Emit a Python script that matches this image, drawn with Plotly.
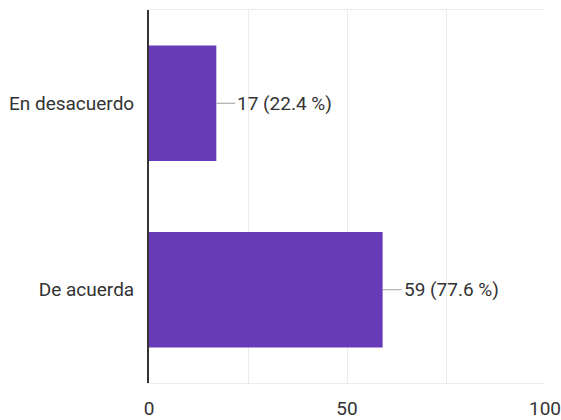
import plotly.graph_objects as go

categories = ["En desacuerdo", "De acuerda"]
counts = [17, 59]
percents = [22.4, 77.6]
x_tickvals = [0, 25, 50, 75, 100]
x_ticktext = ["0", "", "50", "", "100"]

BAR = "#673ab7"
TXT = "#333333"

fig = go.Figure(go.Bar(
    y=categories, x=counts, orientation="h",
    marker=dict(color=BAR, line=dict(width=0)),
    width=0.62, hoverinfo="skip",
))

for c, n, p in zip(categories, counts, percents):
    fig.add_annotation(
        x=n, y=c, xref="x", yref="y",
        text=f"{n} ({p} %)", showarrow=True, arrowhead=0,
        arrowwidth=1, arrowcolor="#9e9e9e", ax=19, ay=0,
        xanchor="left", standoff=0,
        font=dict(family="Roboto", size=19, color=TXT),
    )

fig.update_layout(
    width=561, height=420,
    margin=dict(l=149, r=16, t=10, b=37, autoexpand=False),
    paper_bgcolor="white", plot_bgcolor="white",
    showlegend=False,
    font=dict(family="Roboto", size=19, color=TXT),
    xaxis=dict(
        range=[0, 100], tickvals=x_tickvals, ticktext=x_ticktext,
        showgrid=True, gridcolor="#ebebeb", gridwidth=1,
        zeroline=False, showline=True, linecolor="#ebebeb", linewidth=1,
        mirror=True, ticks="", ticklabelstandoff=8, automargin=False,
        ticklabeloverflow="allow",
        tickfont=dict(family="Roboto", size=19, color=TXT),
        fixedrange=True,
    ),
    yaxis=dict(
        categoryorder="array", categoryarray=categories, autorange="reversed",
        showgrid=False, zeroline=False, showline=True, linecolor="#333333",
        linewidth=2, ticks="", ticklabelstandoff=9, automargin=False,
        tickfont=dict(family="Roboto", size=19, color=TXT), fixedrange=True,
    ),
)

fig.write_html(
    "out.html",
    config={"displayModeBar": False},
    post_script="document.body.style.margin='0';document.body.style.overflow='hidden';",
)
